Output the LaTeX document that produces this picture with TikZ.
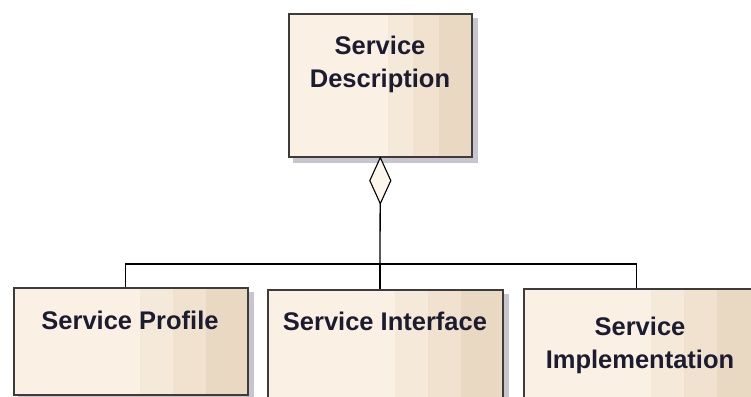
\documentclass[tikz,border=0pt]{standalone}
\usepackage{fontspec}
\setmainfont{Liberation Sans}
\usetikzlibrary{calc}
\definecolor{bandA}{HTML}{FAF0E3}
\definecolor{bandB}{HTML}{F5EADA}
\definecolor{bandC}{HTML}{F0E2CE}
\definecolor{bandD}{HTML}{E9D9C3}
\definecolor{shadowc}{HTML}{C9C5CE}
\definecolor{boxline}{HTML}{3C3C3C}
\definecolor{txtc}{HTML}{1C1C30}
\definecolor{diamc}{HTML}{FDF6EC}
\tikzset{
  umlbox/.style={draw=boxline, line width=1.6pt, fill=bandA, anchor=north west, inner sep=0pt,
    preaction={fill=shadowc, draw=shadowc, line width=1.6pt, transform canvas={shift={(5pt,-5pt)}}},
    path picture={
      \coordinate (ppnw) at (path picture bounding box.north west);
      \coordinate (ppne) at (path picture bounding box.north east);
      \coordinate (ppsw) at (path picture bounding box.south west);
      \coordinate (ppse) at (path picture bounding box.south east);
      \fill[bandB] ($(ppnw)!0.54!(ppne)$) rectangle ($(ppsw)!0.68!(ppse)$);
      \fill[bandC] ($(ppnw)!0.68!(ppne)$) rectangle ($(ppsw)!0.82!(ppse)$);
      \fill[bandD] ($(ppnw)!0.82!(ppne)$) rectangle (ppse);
    }},
  lbl/.style={font=\fontsize{25.5}{33}\selectfont\bfseries, text=txtc, align=center, inner sep=0pt, anchor=north},
  conn/.style={draw=black, line width=1.3pt},
  diamondtip/.style={fill=diamc, draw=black, line width=1.1pt, line join=miter},
}
\begin{document}
\begin{tikzpicture}[x=1pt, y=-1pt]
\fill[white] (0,0) rectangle (751,396);
\useasboundingbox (0,0) rectangle (751,396);
\node[umlbox, minimum width=183pt, minimum height=143pt] (sd) at (288,13) {};
\node[umlbox, minimum width=234pt, minimum height=107pt] (sp) at (13,287) {};
\node[umlbox, minimum width=235pt, minimum height=112pt] (si) at (267,289) {};
\node[umlbox, minimum width=235pt, minimum height=112pt] (simp) at (523,288) {};
\node[lbl] (sdt) at (380,36) {Service\\Description};
\node[lbl] (spt) at (130,311) {Service Profile};
\node[lbl] (sit) at (385,312) {Service Interface};
\node[lbl] (simpt) at (640,317) {Service\\Implementation};
\coordinate (j) at (380,264);
\draw[conn] (sd.south) -- (j);
\draw[diamondtip] (sd.south) -- ++(10.5,23) -- ++(-10.5,23) -- ++(-10.5,-23) -- cycle;
\draw[conn] (j) -- (j |- si.north);
\draw[conn] ([xshift=-5pt]sp.north) |- (j) -| ([xshift=-5pt]simp.north);
\end{tikzpicture}
\end{document}
